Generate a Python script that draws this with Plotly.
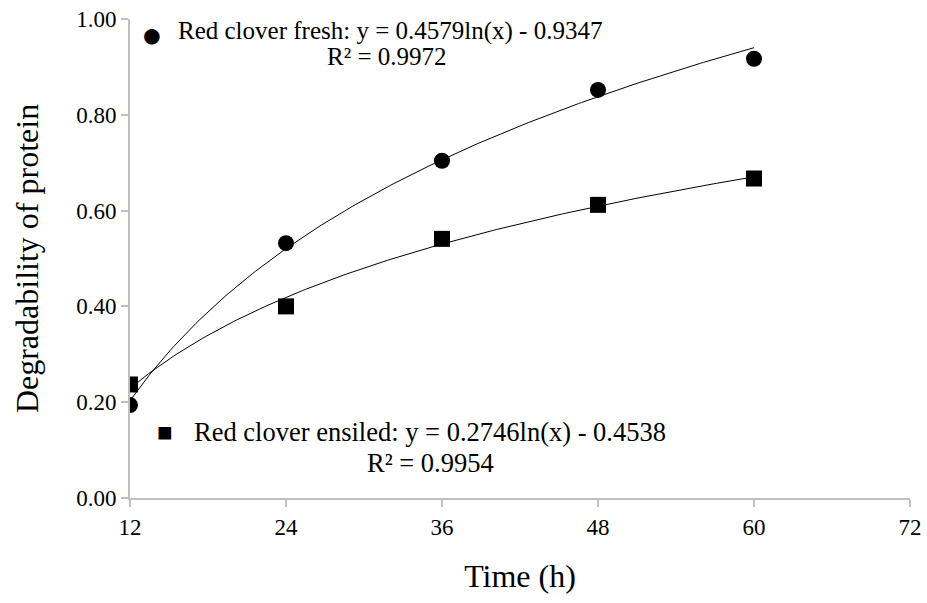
import numpy as np
import plotly.graph_objects as go

time_h = [12, 24, 36, 48, 60]
fresh = [0.194, 0.532, 0.704, 0.852, 0.917]
ensiled = [0.237, 0.400, 0.541, 0.612, 0.667]

fresh_coef = [0.4579, -0.9347]
ensiled_coef = [0.2746, -0.4538]

x_ticks = [12, 24, 36, 48, 60, 72]
y_ticks = [0.0, 0.2, 0.4, 0.6, 0.8, 1.0]

xs = np.linspace(12, 60, 200)

FONT = "Liberation Serif, Times New Roman, serif"

fig = go.Figure()
fig.add_trace(go.Scatter(x=xs, y=fresh_coef[0] * np.log(xs) + fresh_coef[1], mode="lines",
                         line=dict(color="black", width=1), showlegend=False, hoverinfo="skip"))
fig.add_trace(go.Scatter(x=xs, y=ensiled_coef[0] * np.log(xs) + ensiled_coef[1], mode="lines",
                         line=dict(color="black", width=1), showlegend=False, hoverinfo="skip"))
fig.add_trace(go.Scatter(x=time_h, y=fresh, mode="markers",
                         marker=dict(symbol="circle", size=16, color="black"), showlegend=False))
fig.add_trace(go.Scatter(x=time_h, y=ensiled, mode="markers",
                         marker=dict(symbol="square", size=16, color="black"), showlegend=False))

fig.update_layout(
    width=927, height=603,
    margin=dict(l=130, r=17, t=19, b=105, autoexpand=False),
    plot_bgcolor="white", paper_bgcolor="white",
    font=dict(family=FONT, size=23, color="black"),
    xaxis=dict(range=[12, 72], tickvals=x_ticks, ticktext=[str(v) for v in x_ticks],
               showgrid=False, zeroline=False, showline=True, linecolor="#bfbfbf", linewidth=2,
               ticks="outside", ticklen=7, tickcolor="#bfbfbf", tickwidth=2, automargin=False,
               title=dict(text="Time (h)", font=dict(size=32), standoff=26),
               tickfont=dict(size=23)),
    yaxis=dict(range=[0, 1.0], tickvals=y_ticks, ticktext=[f"{v:.2f}" for v in y_ticks],
               showgrid=False, zeroline=False, showline=True, linecolor="#bfbfbf", linewidth=2,
               ticks="outside", ticklen=7, tickcolor="#bfbfbf", tickwidth=2, automargin=False,
               title=dict(text="Degradability of protein", font=dict(size=32), standoff=28),
               tickfont=dict(size=23)),
)

def ann(x, y, text, size=25, xanchor="center"):
    fig.add_annotation(x=x, y=y, xref="paper", yref="paper", text=text, showarrow=False,
                       font=dict(family=FONT, size=size, color="black"), xanchor=xanchor,
                       yanchor="middle", align="center")

W = 927 - 130 - 17
H = 603 - 19 - 105
def px(x): return (x - 130) / W
def py(y): return (498 - y) / H

ann(px(390), py(31), "Red clover fresh: y = 0.4579ln(x) - 0.9347", size=25)
ann(px(387), py(56), "R² = 0.9972", size=25)
ann(px(152), py(35), "●", size=36)
ann(px(430), py(432), "Red clover ensiled: y = 0.2746ln(x) - 0.4538", size=26.5)
ann(px(430), py(463), "R² = 0.9954", size=26.5)
ann(px(165), py(432), "■", size=26)

fig.write_html("out.html", post_script="document.body.style.margin='0';",
               config={"displayModeBar": False})
